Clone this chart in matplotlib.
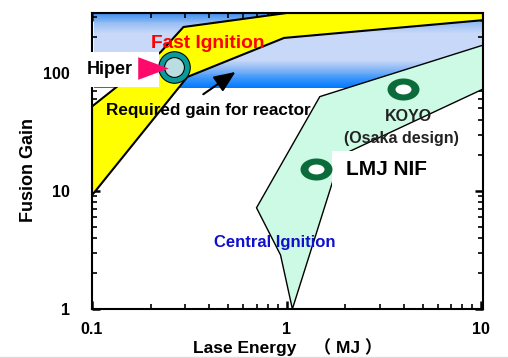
import numpy as np
import matplotlib.pyplot as plt
from matplotlib.colors import LinearSegmentedColormap
from matplotlib.patches import Polygon, Rectangle
from matplotlib.path import Path
from matplotlib.transforms import Affine2D
from matplotlib.ticker import NullFormatter

plt.rcParams['font.family'] = ['Liberation Sans', 'Noto Sans CJK JP', 'DejaVu Sans']
plt.rcParams['font.weight'] = 'bold'

# --- data ---
# fast ignition region (yellow), outline going round
fast_energy = [0.1, 0.1, 0.225, 0.295, 1.0, 10.2, 10.2, 0.97, 0.309]
fast_gain = [9.2, 52, 150, 245, 322, 322, 280, 198, 92.5]

# central ignition region (mint), outline going round
central_energy = [1.07, 0.93, 0.70, 1.48, 10.2, 10.2, 1.9]
central_gain = [1.0, 2.87, 7.2, 63, 172, 73, 20]

# required gain for a reactor: band from this gain up to the top
reactor_gain = [75, 322]

# design points
hiper_point = (0.265, 112)
koyo_point = (3.96, 73)
lmj_point = (1.41, 15.4)

x_ticks = [0.1, 1, 10]
x_tick_labels = ['0.1', '1', '10']
y_ticks = [1, 10, 100]
y_tick_labels = ['1', '10', '100']

# --- figure ---
fig = plt.figure(figsize=(5.08, 3.58), dpi=100)
ax = fig.add_axes([92 / 508, 49 / 358, 391 / 508, 296 / 358])
ax.set_xscale('log')
ax.set_yscale('log')
ax.set_xlim(0.1, 10.2)
ax.set_ylim(1, 322)

# blue gradient band
band_cmap = LinearSegmentedColormap.from_list('band', [
    (0.0, '#0078ff'), (0.12, '#3a95fa'), (0.25, '#8ab8f6'), (0.365, '#c8d8f8'),
    (0.73, '#c8d8f8'), (0.87, '#93bbf4'), (1.0, '#3d8fee')])
yy = np.geomspace(reactor_gain[0], reactor_gain[1], 80)
frac = (np.log10(yy[:-1]) + np.log10(yy[1:])) / 2
frac = (frac - np.log10(yy[0])) / (np.log10(yy[-1]) - np.log10(yy[0]))
ax.pcolormesh([0.102, 10.2], yy, frac[:, None], cmap=band_cmap, vmin=0, vmax=1,
              shading='flat', zorder=0.5)

ax.add_patch(Polygon(list(zip(central_energy, central_gain)), closed=True,
                     facecolor='#ccfae4', edgecolor='black', lw=1.0, zorder=2))
ax.add_patch(Polygon(list(zip(fast_energy, fast_gain)), closed=True,
                     facecolor='#ffff00', edgecolor='black', lw=1.5, zorder=2))

# white label boxes
ax.add_patch(Rectangle((-0.045, 0.75), 0.216, 0.118, transform=ax.transAxes,
                       facecolor='white', edgecolor='none', clip_on=False, zorder=3))
ax.add_patch(Rectangle((0.614, 0.385), 0.35, 0.149, transform=ax.transAxes,
                       facecolor='white', edgecolor='none', clip_on=False, zorder=3))

# ring markers
ell_out = Path.unit_circle().transformed(Affine2D().scale(1, 0.69))
ell_in = Path.unit_circle().transformed(Affine2D().scale(1, 0.62))
for pt in (koyo_point, lmj_point):
    ax.plot(*pt, marker=ell_out, ms=23, mfc='#0b6b3a', mec='none', zorder=4)
    ax.plot(*pt, marker=ell_in, ms=11.5, mfc='white', mec='none', zorder=4)

ax.plot(*hiper_point, marker='o', ms=23.5, mfc='black', mec='none', zorder=4)
ax.plot(*hiper_point, marker='o', ms=22, mfc='#0a9a9a', mec='none', zorder=4)
ax.plot(*hiper_point, marker='o', ms=15, mfc='black', mec='none', zorder=4)
ax.plot(*hiper_point, marker='o', ms=13.5, mfc='#b9dde0', mec='none', zorder=4)

# pink pointer to Hiper
tri = Path([(1, 0), (-1, 0.74), (-1, -0.74), (1, 0)])
ax.plot(0.205, 110, marker=tri, ms=22, mfc='#ff0a6c', mec='none', zorder=5)

# black arrow
ax.annotate('', xy=(0.546, 102), xytext=(0.373, 66),
            arrowprops=dict(arrowstyle='-|>,head_length=1.3,head_width=0.55',
                            mutation_scale=10, lw=1.5, color='black',
                            shrinkA=0, shrinkB=0), zorder=5)

# texts
ax.text(0.392, 179, 'Fast Ignition', color='#ff0000', fontsize=13.8,
        ha='center', va='center', zorder=6)
ax.text(0.094, 106, 'Hiper', color='black', fontsize=13, ha='left',
        va='center', zorder=4.5)
ax.text(0.118, 48.5, 'Required gain for reactor', color='black', fontsize=12.3,
        ha='left', va='center', zorder=6)
ax.text(4.21, 42.4, 'KOYO', color='#222222', fontsize=11.5, ha='center',
        va='center', zorder=6)
ax.text(3.87, 28.1, '(Osaka design)', color='#222222', fontsize=11.5,
        ha='center', va='center', zorder=6)
ax.text(2.01, 15.3, 'LMJ NIF', color='black', fontsize=15, ha='left',
        va='center', zorder=6)
ax.text(0.873, 3.63, 'Central Ignition', color='#1010cc', fontsize=12,
        ha='center', va='center', zorder=6)

# axes styling
ax.set_xticks(x_ticks)
ax.set_xticklabels(x_tick_labels)
ax.set_yticks(y_ticks)
ax.set_yticklabels(y_tick_labels)
ax.xaxis.set_minor_formatter(NullFormatter())
ax.yaxis.set_minor_formatter(NullFormatter())
ax.tick_params(which='both', direction='in', top=True, right=True,
               labelsize=11.5)
ax.tick_params(which='major', length=6, width=1.8)
ax.tick_params(which='minor', length=3.5, width=1.2)
ax.tick_params(axis='y', pad=16)
ax.tick_params(axis='x', pad=9)
for s in ax.spines.values():
    s.set_linewidth(1.5)

# the reference crops this label at the bottom edge; keep it just inside
ax.set_xlabel('Lase Energy\u3000\uff08 MJ \uff09', fontsize=12.5,
              fontweight='bold')
ax.xaxis.set_label_coords(0.5, -0.097)
ax.set_ylabel('Fusion Gain', fontsize=13, fontweight='bold')
ax.yaxis.set_label_coords(-0.14, 0.47)

fig.add_artist(plt.Line2D([0, 1], [0.004, 0.004], transform=fig.transFigure,
                          color='#dddddd', lw=1, zorder=0))

fig.savefig('out.png', dpi=100)
